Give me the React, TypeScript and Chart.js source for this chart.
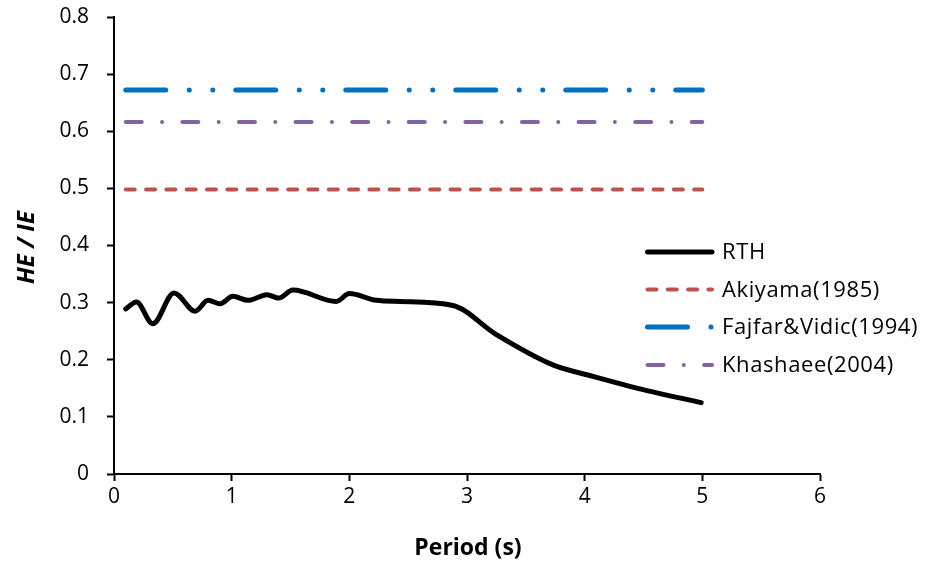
import React, { useEffect, useRef } from "react";
import { Chart, registerables } from "chart.js";

Chart.register(...registerables);

// RTH curve (period s, HE/IE)
const rthPeriod = [0.1, 0.19, 0.33, 0.51, 0.69, 0.8, 0.9, 1.01, 1.14, 1.3, 1.4, 1.52, 1.89, 2.0, 2.23, 2.43, 2.88, 3.25, 3.73, 4.07, 4.53, 4.99];
const rthValues = [0.289, 0.301, 0.263, 0.317, 0.285, 0.304, 0.298, 0.311, 0.304, 0.314, 0.308, 0.322, 0.302, 0.316, 0.304, 0.302, 0.295, 0.244, 0.191, 0.171, 0.146, 0.125];

const constPeriod = [0.1, 5];
const akiyamaValue = 0.498;
const fajfarValue = 0.672;
const khashaeeValue = 0.616;

const seriesNames = ["RTH", "Akiyama(1985)", "Fajfar&Vidic(1994)", "Khashaee(2004)"];
const xTicks = [0, 1, 2, 3, 4, 5, 6];
const yTicks = [0, 0.1, 0.2, 0.3, 0.4, 0.5, 0.6, 0.7, 0.8];

const FONT = "'Open Sans', 'Noto Sans', sans-serif";
const colors = ["#000000", "#C0504D", "#0070C0", "#8064A2"];
const widths = [5, 4, 5, 4];
const dashes: number[][] = [[], [9, 11.3], [40, 23.5, 0, 23.5, 0, 23], [16, 20.3, 0, 20.3]];

const legendPlugin = {
  id: "customDeco",
  afterDraw(chart: any) {
    const ctx = chart.ctx as CanvasRenderingContext2D;
    ctx.save();
    // legend
    const ys = [252, 289.5, 327, 365];
    for (let i = 0; i < 4; i++) {
      ctx.beginPath();
      ctx.strokeStyle = colors[i];
      ctx.lineWidth = widths[i];
      ctx.lineCap = "round";
      ctx.setLineDash(dashes[i]);
      ctx.moveTo(647.5, ys[i]);
      ctx.lineTo(712, ys[i]);
      ctx.stroke();
      ctx.setLineDash([]);
      ctx.fillStyle = "#000";
      ctx.font = `22px ${FONT}`;
      (ctx as any).letterSpacing = "0.6px";
      ctx.textAlign = "left";
      ctx.textBaseline = "alphabetic";
      ctx.fillText(seriesNames[i], 722, ys[i] + 7);
      (ctx as any).letterSpacing = "0px";
    }
    // axis titles
    ctx.fillStyle = "#000";
    ctx.font = `bold 23px ${FONT}`;
    ctx.textAlign = "center";
    ctx.textBaseline = "alphabetic";
    ctx.fillText("Period (s)", 468, 555);
    ctx.save();
    ctx.translate(27, 247.5);
    ctx.rotate(-Math.PI / 2);
    ctx.font = `italic bold 24px ${FONT}`;
    ctx.textBaseline = "middle";
    ctx.fillText("HE / IE", 0, 0);
    ctx.restore();
    ctx.restore();
  },
};

export default function App() {
  const ref = useRef<HTMLCanvasElement | null>(null);
  useEffect(() => {
    if (!ref.current) return;
    const mk = (v: number) => constPeriod.map((x) => ({ x, y: v }));
    const rth = rthPeriod.map((x, i) => ({ x, y: rthValues[i] }));
    const datasets = [rth, mk(akiyamaValue), mk(fajfarValue), mk(khashaeeValue)].map((data, i) => ({
      label: seriesNames[i],
      data,
      borderColor: colors[i],
      backgroundColor: colors[i],
      borderWidth: widths[i],
      borderDash: dashes[i],
      borderCapStyle: "round" as const,
      borderJoinStyle: "round" as const,
      pointRadius: 0,
      showLine: true,
      fill: false,
      cubicInterpolationMode: "monotone" as const,
    }));
    const ordered = [datasets[1], datasets[2], datasets[3], datasets[0]];
    const chart = new Chart(ref.current, {
      type: "scatter",
      data: { datasets: ordered as any },
      options: {
        animation: false,
        responsive: false,
        devicePixelRatio: 1,
        layout: { padding: { top: 17, right: 107, left: 0, bottom: 0 } },
        plugins: { legend: { display: false }, tooltip: { enabled: false } },
        scales: {
          x: {
            type: "linear",
            min: 0,
            max: 6,
            afterBuildTicks: (s: any) => {
              s.ticks = xTicks.map((v) => ({ value: v }));
            },
            afterFit: (s: any) => {
              s.height = 91;
              s.paddingLeft = 0;
              s.paddingRight = 0;
            },
            ticks: { color: "#000", font: { family: FONT, size: 21 }, padding: 3, maxRotation: 0 },
            grid: { display: true, drawOnChartArea: false, drawTicks: true, tickLength: 7, tickColor: "#000", tickWidth: 2 },
            border: { display: true, color: "#000", width: 2 },
          },
          y: {
            type: "linear",
            min: 0,
            max: 0.8,
            afterBuildTicks: (s: any) => {
              s.ticks = yTicks.map((v) => ({ value: v }));
            },
            afterFit: (s: any) => {
              s.width = 114;
              s.paddingTop = 0;
              s.paddingBottom = 0;
            },
            ticks: {
              color: "#000",
              font: { family: FONT, size: 21 },
              padding: 18,
              callback: (v: any) => String(Math.round(Number(v) * 10) / 10),
            },
            grid: { display: true, drawOnChartArea: false, drawTicks: true, tickLength: 7, tickColor: "#000", tickWidth: 2 },
            border: { display: true, color: "#000", width: 2 },
          },
        },
      },
      plugins: [legendPlugin],
    });
    return () => chart.destroy();
  }, []);
  return (
    <div style={{ position: "absolute", left: 0, top: 0, width: 927, height: 565, background: "#fff" }}>
      <canvas ref={ref} width={927} height={565} style={{ width: 927, height: 565, display: "block" }} />
    </div>
  );
}
